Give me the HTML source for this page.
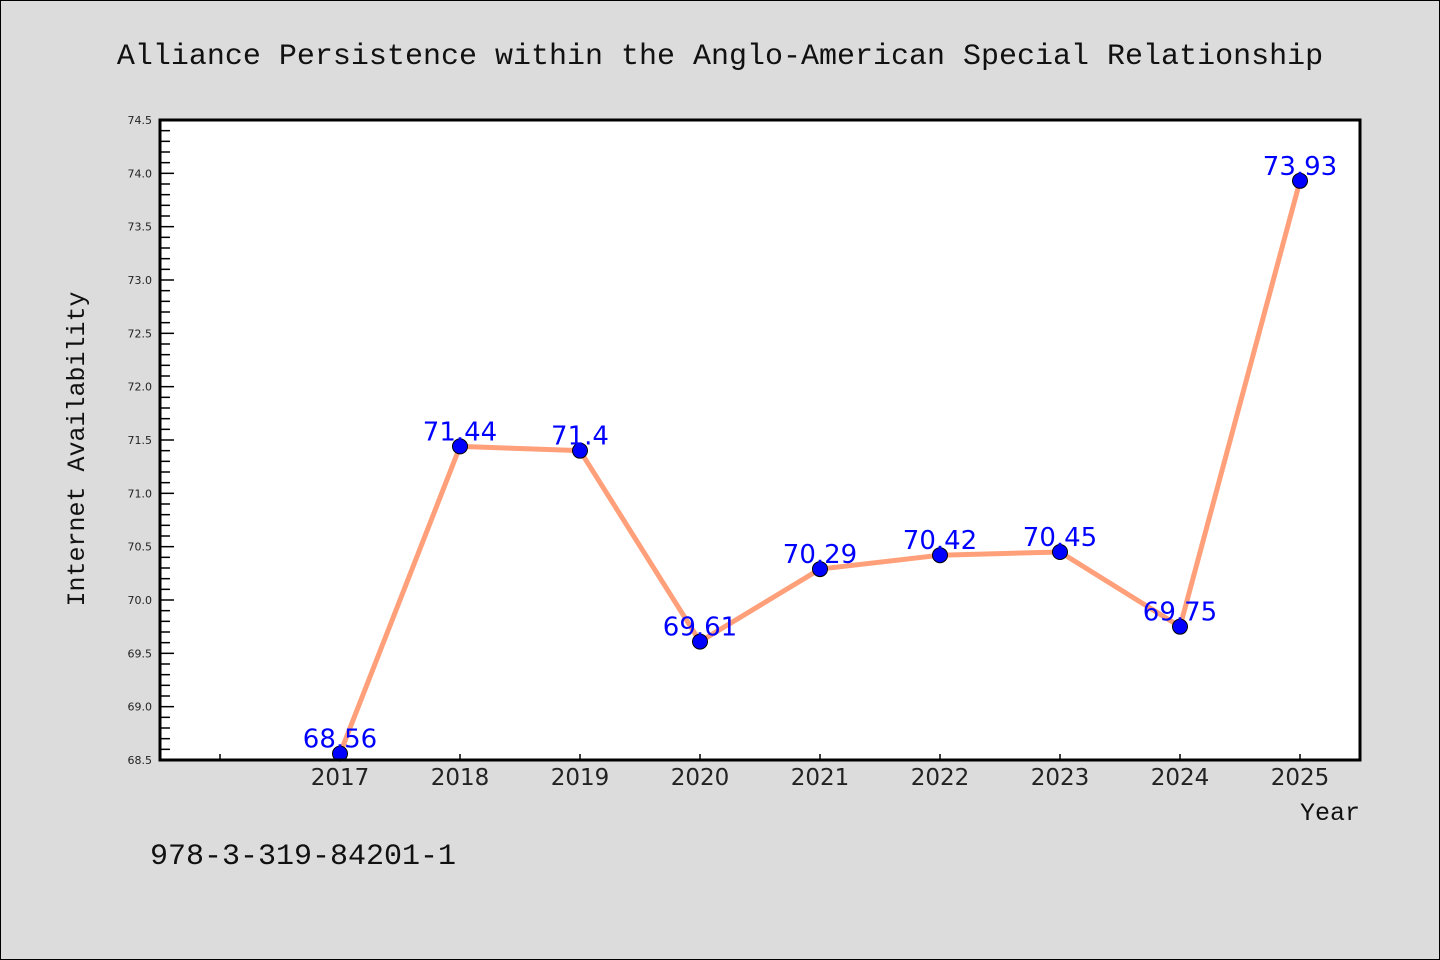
<!DOCTYPE html>
<html><head><meta charset="utf-8"><style>
html,body{margin:0;padding:0;background:#dcdcdc;}
svg{display:block;}
</style></head><body>
<svg id="chart" width="1440" height="960" xmlns="http://www.w3.org/2000/svg">
<rect x="0.5" y="0.5" width="1439" height="959" fill="#dcdcdc" stroke="#000" stroke-width="1"/>
<text x="720" y="64" text-anchor="middle" font-family="Liberation Mono, monospace" font-size="30" fill="#111">Alliance Persistence within the Anglo-American Special Relationship</text>
<rect x="160" y="120" width="1200" height="640" fill="#fff"/>
<g id="yticks"></g>
<g id="xticks"></g>
<g id="series"></g>
<rect x="160" y="120" width="1200" height="640" fill="none" stroke="#000" stroke-width="3"/>
<text transform="translate(84,449) rotate(-90)" text-anchor="middle" font-family="Liberation Mono, monospace" font-size="25" fill="#111">Internet Availability</text>
<text x="1360" y="820" text-anchor="end" font-family="Liberation Mono, monospace" font-size="25" fill="#111">Year</text>
<text x="150" y="864" font-family="Liberation Mono, monospace" font-size="30" fill="#111">978-3-319-84201-1</text>
</svg>
<script>
const categories = ["2017","2018","2019","2020","2021","2022","2023","2024","2025"];
const values = [68.56, 71.44, 71.4, 69.61, 70.29, 70.42, 70.45, 69.75, 73.93];
const valueLabels = ["68.56","71.44","71.4","69.61","70.29","70.42","70.45","69.75","73.93"];
const yTickLabels = ["68.5","69.0","69.5","70.0","70.5","71.0","71.5","72.0","72.5","73.0","73.5","74.0","74.5"];
const yMin = 68.5, yMax = 74.5;
const NS = "http://www.w3.org/2000/svg";
function y(v){ return 760 - (v - yMin) / (yMax - yMin) * 640; }
function x(i){ return 340 + i * 120; }
function mk(tag, attrs, parent){ const e = document.createElementNS(NS, tag); for (const k in attrs) e.setAttribute(k, attrs[k]); parent.appendChild(e); return e; }
const yg = document.getElementById('yticks');
for (let k = 0; k <= 60; k++) {
  const v = yMin + k * 0.1;
  const major = k % 5 === 0;
  const t = mk('line', {x1:160, x2:160 + (major ? 14 : 10), y1:y(v), y2:y(v), stroke:'#000', 'stroke-width':1.5}, yg);
  
  
}
yTickLabels.forEach(function(l){
  const t = mk('text', {x:152, y:y(parseFloat(l)) + 4, 'text-anchor':'end', 'font-family':'DejaVu Sans, sans-serif', 'font-size':11, fill:'#222'}, yg);
  t.textContent = l;
  
  
});
const xg = document.getElementById('xticks');
for (let i = -1; i < categories.length; i++) {
  const t = mk('line', {x1:x(i), x2:x(i), y1:760, y2:754, stroke:'#000', 'stroke-width':1.5}, xg);
  
  
}
categories.forEach(function(c, i){
  const t = mk('text', {x:x(i), y:785, 'text-anchor':'middle', 'font-family':'DejaVu Sans, sans-serif', 'font-size':23, fill:'#222'}, xg);
  t.textContent = c;
  
  
});
const sg = document.getElementById('series');
const pl = mk('polyline', {points: values.map(function(v, i){ return x(i) + ',' + y(v); }).join(' '), fill:'none', stroke:'#ffa07a', 'stroke-width':5, 'stroke-linejoin':'round'}, sg);


values.forEach(function(v, i){
  const c = mk('circle', {cx:x(i), cy:y(v), r:7.5, fill:'#0000ff', stroke:'#000', 'stroke-width':1}, sg);
  
  
});
values.forEach(function(v, i){
  const t = mk('text', {x:x(i), y:y(v) - 6, 'text-anchor':'middle', 'font-family':'DejaVu Sans, sans-serif', 'font-size':26, fill:'#0000ff'}, sg);
  t.textContent = valueLabels[i];
  
  
});
</script>
</body></html>
